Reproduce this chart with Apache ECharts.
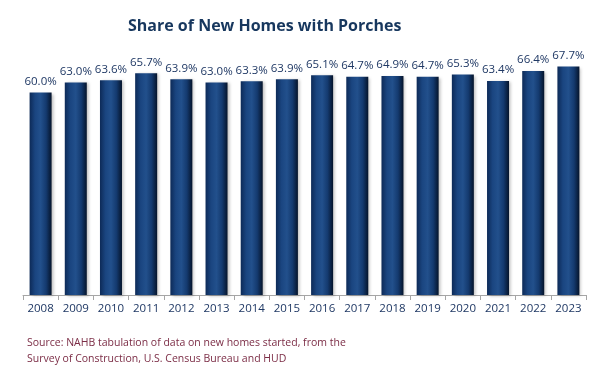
<!DOCTYPE html>
<html>
<head>
<meta charset="utf-8">
<script src="https://cdn.jsdelivr.net/npm/echarts@6/dist/echarts.min.js"></script>
<style>
html,body{margin:0;padding:0;background:#fff;}
#chart{width:598px;height:374px;}
</style>
</head>
<body>
<div id="chart"></div>
<script>
const categories = ['2008','2009','2010','2011','2012','2013','2014','2015','2016','2017','2018','2019','2020','2021','2022','2023'];
const shareValues = [60.0, 63.0, 63.6, 65.7, 63.9, 63.0, 63.3, 63.9, 65.1, 64.7, 64.9, 64.7, 65.3, 63.4, 66.4, 67.7];
const titleText = 'Share of New Homes with Porches';
const sourceLines = ['Source: NAHB tabulation of data on new homes started, from the', 'Survey of Construction, U.S. Census Bureau and HUD'];

const chart = echarts.init(document.getElementById('chart'));
const barGradient = new echarts.graphic.LinearGradient(0, 0, 1, 0, [
  {offset: 0, color: '#0d2a57'},
  {offset: 0.25, color: '#1a4580'},
  {offset: 0.5, color: '#22508c'},
  {offset: 0.75, color: '#143a6f'},
  {offset: 1, color: '#05142b'}
]);
chart.setOption({
  animation: false,
  title: {
    text: titleText,
    left: 123,
    top: 13,
    textStyle: {fontFamily: 'Open Sans', fontWeight: 'bold', fontSize: 16, color: '#17375e'}
  },
  grid: {left: 23, right: 12, top: 25, bottom: 79, containLabel: false},
  xAxis: {
    type: 'category',
    data: categories,
    axisLine: {show: true, lineStyle: {color: '#a6a6a6', width: 1}},
    axisTick: {show: true, alignWithLabel: false, length: 5, lineStyle: {color: '#a6a6a6'}},
    axisLabel: {color: '#1f3864', fontFamily: 'Open Sans', fontSize: 11.5, margin: 8, interval: 0}
  },
  yAxis: {
    type: 'value',
    min: 0,
    max: 80,
    show: false,
    splitLine: {show: false}
  },
  series: [{
    type: 'bar',
    data: shareValues,
    barWidth: 22,
    itemStyle: {
      color: barGradient,
      shadowColor: 'rgba(0,0,0,0.25)',
      shadowBlur: 3,
      shadowOffsetX: 2,
      shadowOffsetY: 1
    },
    label: {
      show: true,
      position: 'top',
      distance: 5,
      formatter: p => p.value.toFixed(1) + '%',
      color: '#1f3864',
      fontFamily: 'Open Sans',
      fontSize: 11.5
    }
  }],
  graphic: [{
    type: 'text',
    left: 27,
    top: 335,
    style: {
      text: sourceLines.join('\n'),
      fill: '#7b2c45',
      font: '10.5px "Open Sans"',
      lineHeight: 16
    }
  }]
});
</script>
</body>
</html>
